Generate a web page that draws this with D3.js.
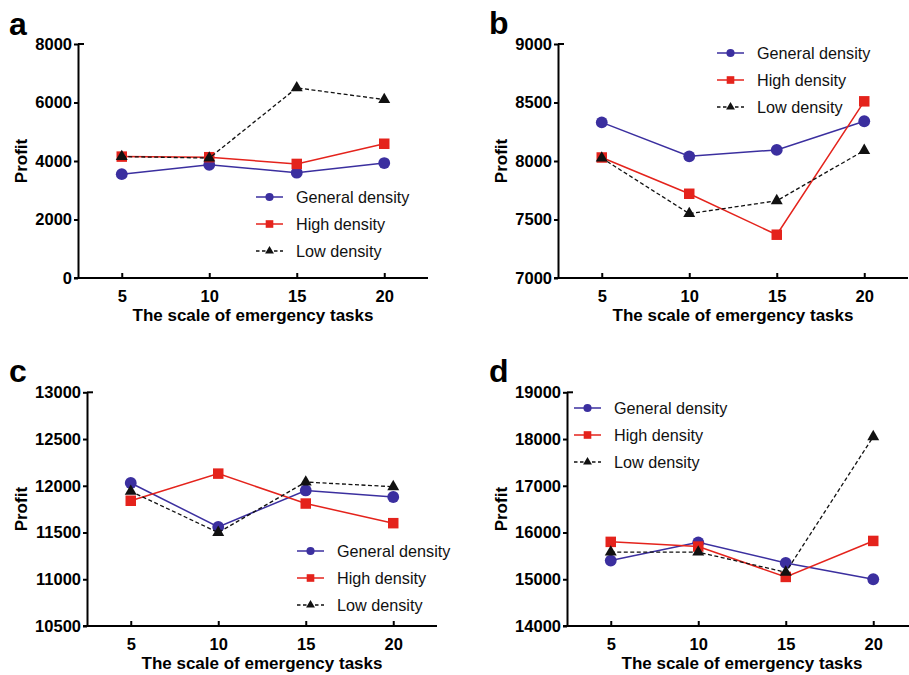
<!DOCTYPE html>
<html>
<head>
<meta charset="utf-8">
<script src="https://cdn.jsdelivr.net/npm/d3@7"></script>
<style>
  html, body { margin: 0; padding: 0; background: #fff; }
  svg { display: block; font-family: "Liberation Sans", Arial, sans-serif; }
</style>
</head>
<body>
<svg id="chart" width="909" height="675"></svg>
<script>
// ---- data ----
const tasks = [5, 10, 15, 20];
const seriesNames = ["General density", "High density", "Low density"];

const aGeneral = [3550, 3870, 3600, 3930];
const aHigh    = [4150, 4130, 3900, 4590];
const aLow     = [4150, 4100, 6500, 6100];
const aTicks   = [0, 2000, 4000, 6000, 8000];

const bGeneral = [8330, 8040, 8095, 8340];
const bHigh    = [8030, 7720, 7370, 8510];
const bLow     = [8025, 7550, 7660, 8090];
const bTicks   = [7000, 7500, 8000, 8500, 9000];

const cGeneral = [12030, 11560, 11950, 11880];
const cHigh    = [11840, 12130, 11810, 11600];
const cLow     = [11940, 11500, 12040, 11990];
const cTicks   = [10500, 11000, 11500, 12000, 12500, 13000];

const dGeneral = [15400, 15790, 15350, 15000];
const dHigh    = [15800, 15700, 15050, 15820];
const dLow     = [15580, 15580, 15150, 18050];
const dTicks   = [14000, 15000, 16000, 17000, 18000, 19000];

const panelLetters = ["a", "b", "c", "d"];
const xLabel = "The scale of emergency tasks";
const yLabel = "Profit";

// ---- styles ----
const colors = ["#3b2f9f", "#e4231c", "#111111"];
const symbols = [d3.symbolCircle, d3.symbolSquare, d3.symbolTriangle];
const markerSize = [110, 110, 62];
const legendSize = [52, 58, 34];
const dashes = [null, null, "4,2.5"];

const panels = [
  { letter: panelLetters[0], data: [aGeneral, aHigh, aLow], ticks: aTicks,
    x0: 78, top: 44, bottom: 278, titleOff: 51, lx: 256, ly: 197, letX: 9, letY: 35 },
  { letter: panelLetters[1], data: [bGeneral, bHigh, bLow], ticks: bTicks,
    x0: 558, top: 44, bottom: 278, titleOff: 51, lx: 717, ly: 53, letX: 489, letY: 34 },
  { letter: panelLetters[2], data: [cGeneral, cHigh, cLow], ticks: cTicks,
    x0: 87, top: 392.3, bottom: 626, titleOff: 60, lx: 297, ly: 551, letX: 9, letY: 382 },
  { letter: panelLetters[3], data: [dGeneral, dHigh, dLow], ticks: dTicks,
    x0: 567, top: 392.3, bottom: 626, titleOff: 60, lx: 574, ly: 408, letX: 489, letY: 382 }
];

const svg = d3.select("#chart");

panels.forEach(p => {
  const g = svg.append("g");
  const x = d3.scaleLinear().domain([2.5, 22.5]).range([p.x0, p.x0 + 350]);
  const y = d3.scaleLinear().domain(d3.extent(p.ticks)).range([p.bottom, p.top]);

  // panel letter
  g.append("text").attr("x", p.letX).attr("y", p.letY)
    .attr("font-size", 32).attr("font-weight", "bold").attr("fill", "#000")
    .text(p.letter);

  // y axis
  const ya = g.append("g").attr("transform", `translate(${p.x0},0)`)
    .call(d3.axisLeft(y).tickValues(p.ticks).tickSize(4).tickSizeOuter(0).tickPadding(2).tickFormat(d3.format("d")));
  ya.selectAll("path.domain").attr("stroke", "#000").attr("stroke-width", 2);
  ya.selectAll(".tick line").attr("stroke", "#000").attr("stroke-width", 2);
  ya.selectAll(".tick text").attr("font-size", 16.5).attr("font-weight", "bold").attr("fill", "#000")
    .attr("font-family", '"Liberation Sans", Arial, sans-serif');
  g.append("line").attr("x1", p.x0).attr("x2", p.x0 + 6)
    .attr("y1", y(p.ticks[p.ticks.length - 1])).attr("y2", y(p.ticks[p.ticks.length - 1]))
    .attr("stroke", "#000").attr("stroke-width", 2);

  // x axis
  const xa = g.append("g").attr("transform", `translate(0,${p.bottom})`)
    .call(d3.axisBottom(x).tickValues(tasks).tickSize(-5).tickSizeOuter(0).tickPadding(12));
  xa.select("path.domain").remove();
  xa.selectAll(".tick line").attr("stroke", "#000").attr("stroke-width", 2);
  xa.selectAll(".tick text").attr("font-size", 16.5).attr("font-weight", "bold").attr("fill", "#000")
    .attr("font-family", '"Liberation Sans", Arial, sans-serif');
  g.append("line").attr("x1", p.x0 - 4).attr("x2", p.x0 + 350)
    .attr("y1", p.bottom).attr("y2", p.bottom)
    .attr("stroke", "#000").attr("stroke-width", 2);

  // axis titles
  g.append("text").attr("x", p.x0 + 175).attr("y", p.bottom + 43)
    .attr("text-anchor", "middle").attr("font-size", 17).attr("font-weight", "bold")
    .text(xLabel);
  g.append("text")
    .attr("transform", `translate(${p.x0 - p.titleOff},${(p.top + p.bottom) / 2}) rotate(-90)`)
    .attr("text-anchor", "middle").attr("font-size", 17).attr("font-weight", "bold")
    .text(yLabel);

  // series
  const line = d3.line().x((d, i) => x(tasks[i])).y(d => y(d));
  p.data.forEach((vals, s) => {
    g.append("path").datum(vals).attr("d", line)
      .attr("fill", "none").attr("stroke", colors[s]).attr("stroke-width", s === 2 ? 1.3 : 1.5)
      .attr("stroke-dasharray", dashes[s]);
    g.selectAll(null).data(vals).enter().append("path")
      .attr("d", d3.symbol().type(symbols[s]).size(markerSize[s]))
      .attr("transform", (d, i) => `translate(${x(tasks[i])},${y(d)})`)
      .attr("fill", colors[s]);
  });

  // legend
  seriesNames.forEach((name, s) => {
    const ry = p.ly + s * 27;
    g.append("line").attr("x1", p.lx).attr("x2", p.lx + 27).attr("y1", ry).attr("y2", ry)
      .attr("stroke", colors[s]).attr("stroke-width", s === 2 ? 1.3 : 1.5)
      .attr("stroke-dasharray", s === 2 ? "3.5,2.5" : null);
    g.append("path").attr("d", d3.symbol().type(symbols[s]).size(legendSize[s]))
      .attr("transform", `translate(${p.lx + 13.5},${ry})`).attr("fill", colors[s]);
    g.append("text").attr("x", p.lx + 40).attr("y", ry).attr("dy", "0.36em")
      .attr("font-size", 16.2).attr("fill", "#111").text(name);
  });
});
</script>
</body>
</html>
